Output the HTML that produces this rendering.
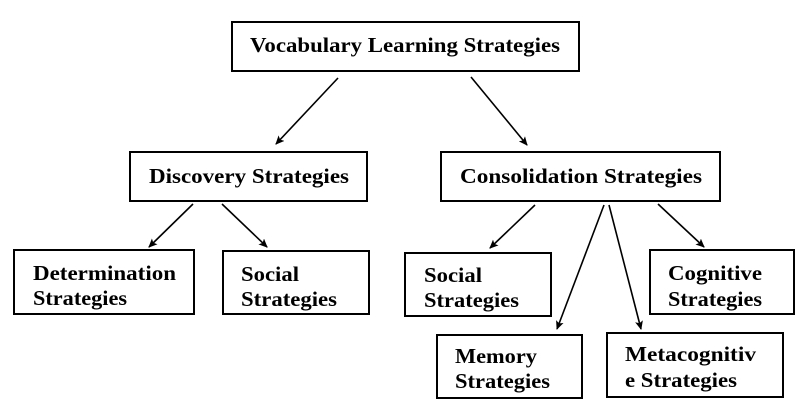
<!DOCTYPE html>
<html><head><meta charset="utf-8"><style>
html,body{margin:0;padding:0;background:#fff;width:800px;height:417px;overflow:hidden}
text{font-family:"Liberation Serif",serif;font-weight:bold;font-size:21px;fill:#000}
</style></head><body>
<svg width="800" height="417" viewBox="0 0 800 417" xmlns="http://www.w3.org/2000/svg">
<defs><marker id="a" markerWidth="10" markerHeight="10" refX="8" refY="4" orient="auto" markerUnits="userSpaceOnUse"><path d="M0,0 L9,4 L0,8 L2,4 Z" fill="#000"/></marker></defs>
<g fill="none" stroke="#000" stroke-width="2">
<rect x="232" y="22" width="347" height="49"/>
<rect x="130" y="152" width="237" height="49"/>
<rect x="441" y="152" width="279" height="49"/>
<rect x="14" y="250" width="180" height="64"/>
<rect x="223" y="251" width="146" height="63"/>
<rect x="405" y="253" width="146" height="63"/>
<rect x="650" y="250" width="144" height="64"/>
<rect x="437" y="335" width="145" height="63"/>
<rect x="607" y="333" width="176" height="64"/>
</g>
<g stroke="#000" stroke-width="1.6" fill="none" marker-end="url(#a)">
<line x1="338" y1="78" x2="276" y2="144"/>
<line x1="471" y1="77" x2="527" y2="145"/>
<line x1="193" y1="204" x2="149" y2="247"/>
<line x1="222" y1="204" x2="267" y2="247"/>
<line x1="535" y1="205" x2="490" y2="248"/>
<line x1="604" y1="205" x2="557" y2="329"/>
<line x1="609" y1="205" x2="641" y2="329"/>
<line x1="658" y1="204" x2="704" y2="247"/>
</g>
<text x="250" y="52" textLength="310" lengthAdjust="spacingAndGlyphs">Vocabulary Learning Strategies</text>
<text x="149" y="183" textLength="200" lengthAdjust="spacingAndGlyphs">Discovery Strategies</text>
<text x="460" y="183" textLength="242" lengthAdjust="spacingAndGlyphs">Consolidation Strategies</text>
<text x="33" y="280" textLength="143" lengthAdjust="spacingAndGlyphs">Determination</text>
<text x="33" y="305" textLength="94" lengthAdjust="spacingAndGlyphs">Strategies</text>
<text x="241" y="281" textLength="58" lengthAdjust="spacingAndGlyphs">Social</text>
<text x="241" y="306" textLength="96" lengthAdjust="spacingAndGlyphs">Strategies</text>
<text x="424" y="282" textLength="58" lengthAdjust="spacingAndGlyphs">Social</text>
<text x="424" y="307" textLength="95" lengthAdjust="spacingAndGlyphs">Strategies</text>
<text x="668" y="280" textLength="94" lengthAdjust="spacingAndGlyphs">Cognitive</text>
<text x="668" y="306" textLength="94" lengthAdjust="spacingAndGlyphs">Strategies</text>
<text x="455" y="363" textLength="82" lengthAdjust="spacingAndGlyphs">Memory</text>
<text x="455" y="388" textLength="95" lengthAdjust="spacingAndGlyphs">Strategies</text>
<text x="625" y="361" textLength="131" lengthAdjust="spacingAndGlyphs">Metacognitiv</text>
<text x="625" y="387" textLength="112" lengthAdjust="spacingAndGlyphs">e Strategies</text>
</svg>
</body></html>
